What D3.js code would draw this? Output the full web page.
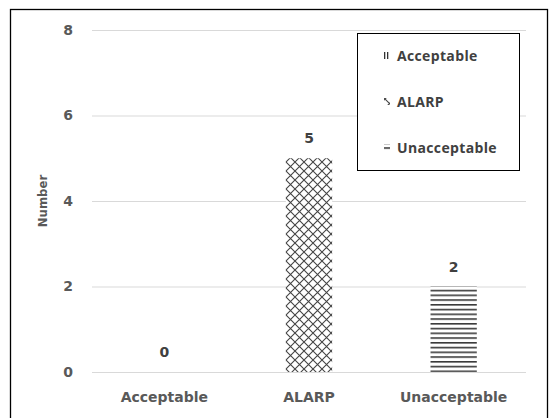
<!DOCTYPE html>
<html><head><meta charset="utf-8">
<script src="https://cdn.jsdelivr.net/npm/d3@7"></script>
<style>body{margin:0;background:#fff}svg{display:block}text{font-family:"DejaVu Sans",sans-serif;font-weight:700}</style>
</head><body><svg id="c" width="550" height="418"></svg>
<script>
const categories = ["Acceptable", "ALARP", "Unacceptable"];
const values = [0, 5, 2];
const patterns = ["vlines", "cross", "hlines"];
const yTicks = [0, 2, 4, 6, 8];
const yLabel = "Number";

const svg = d3.select("#c");
const W = 550, H = 418;
const m = {left: 92, right: 24, top: 30, bottom: 46};
const AX_FONT = "'DejaVu Sans',sans-serif";

const defs = svg.append("defs");
const pv = defs.append("pattern").attr("id","vlines").attr("patternUnits","userSpaceOnUse").attr("width",3).attr("height",4);
pv.append("rect").attr("width",3).attr("height",4).attr("fill","#fff");
pv.append("rect").attr("x",0).attr("width",1.3).attr("height",4).attr("fill","#333");
const ph = defs.append("pattern").attr("id","hlines").attr("patternUnits","userSpaceOnUse").attr("width",4).attr("height",4.75);
ph.append("rect").attr("width",4).attr("height",4.75).attr("fill","#fff");
ph.append("rect").attr("y",0).attr("width",4).attr("height",1.6).attr("fill","#3a3a3a");
const pc = defs.append("pattern").attr("id","cross").attr("patternUnits","userSpaceOnUse").attr("width",9).attr("height",9).attr("x",286).attr("y",0);
pc.append("rect").attr("width",9).attr("height",9).attr("fill","#fff");
pc.append("path").attr("d","M0,0L9,9M9,0L0,9").attr("stroke","#444").attr("stroke-width",1.1).attr("fill","none");

svg.append("rect").attr("x",10.5).attr("y",9.5).attr("width",537).attr("height",430)
  .attr("fill","none").attr("stroke","#000").attr("stroke-width",1.3);

const x = d3.scaleBand().domain(categories).range([m.left, W - m.right]).paddingInner(0.68).paddingOuter(0.34);
const y = d3.scaleLinear().domain([0, 8]).range([372, 30]);

svg.append("g").selectAll("line").data(yTicks).join("line")
  .attr("x1", m.left).attr("x2", W - m.right)
  .attr("y1", d => y(d) + 0.5).attr("y2", d => y(d) + 0.5)
  .attr("stroke", "#d9d9d9").attr("stroke-width", 1);

const yAxis = d3.axisLeft(y).tickValues(yTicks).tickSize(0).tickPadding(19);
const gy = svg.append("g").attr("transform", `translate(${m.left},0)`).call(yAxis);
gy.select(".domain").remove();
gy.selectAll("text").attr("font-size", 14).attr("fill", "#595959").style("font-family", AX_FONT).style("font-weight","700");

const xAxis = d3.axisBottom(x).tickSize(0).tickPadding(20);
const gx = svg.append("g").attr("transform", `translate(0,${y(0)})`).call(xAxis);
gx.select(".domain").remove();
gx.selectAll("text").attr("font-size", 14).attr("fill", "#595959").style("font-family", AX_FONT).style("font-weight","700");

svg.append("g").selectAll("rect").data(categories).join("rect")
  .attr("x", d => x(d)).attr("width", x.bandwidth())
  .attr("y", (d, i) => y(values[i])).attr("height", (d, i) => y(0) - y(values[i]))
  .attr("fill", (d, i) => `url(#${patterns[i]})`);

svg.append("g").selectAll("text").data(categories).join("text")
  .attr("x", d => x(d) + x.bandwidth() / 2)
  .attr("y", (d, i) => y(values[i]) - 15)
  .attr("text-anchor", "middle").attr("font-size", 14).attr("fill", "#404040")
  .text((d, i) => values[i]);

svg.append("text").attr("transform", `translate(47,${(y(8)+y(0))/2}) rotate(-90)`)
  .attr("text-anchor", "middle").attr("font-size", 11.7).attr("fill", "#595959").text(yLabel);

const lg = svg.append("g");
lg.append("rect").attr("x", 357.5).attr("y", 33.5).attr("width", 162).attr("height", 137)
  .attr("fill", "#fff").attr("stroke", "#000").attr("stroke-width", 1);
const legY = [56, 102, 148];
categories.forEach((c, i) => {
  lg.append("rect").attr("x", 384).attr("y", legY[i] - 4).attr("width", 6).attr("height", 7)
    .attr("fill", `url(#${patterns[i]})`);
  lg.append("text").attr("x", 397).attr("y", legY[i]).attr("dy", "0.35em")
    .style("font-family", "'Open Sans',sans-serif")
    .attr("font-size", 14).attr("fill", "#404040").attr("letter-spacing", 0.35).text(c);
});
</script></body></html>
